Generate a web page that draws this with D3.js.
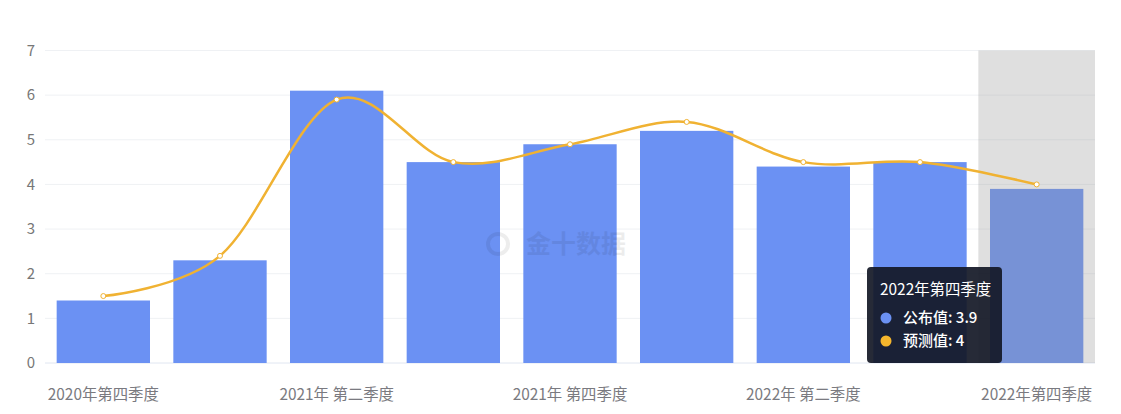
<!DOCTYPE html>
<html><head><meta charset="utf-8">
<script src="https://cdn.jsdelivr.net/npm/d3@7/dist/d3.min.js"></script>
<style>
body{margin:0;background:#fff;font-family:"Microsoft YaHei","Noto Sans CJK SC",sans-serif;}
</style></head>
<body><svg id="c" width="1121" height="414"></svg>
<script>
const categories = ["2020年第四季度","2021年第一季度","2021年 第二季度","2021年第三季度","2021年 第四季度","2022年第一季度","2022年 第二季度","2022年第三季度","2022年第四季度"];
const published = [1.4, 2.3, 6.1, 4.5, 4.9, 5.2, 4.4, 4.5, 3.9];
const forecast = [1.5, 2.4, 5.9, 4.5, 4.9, 5.4, 4.5, 4.5, 4.0];
const yTicks = [0,1,2,3,4,5,6,7];
const shownLabels = [0,2,4,6,8];
const highlight = 8;

const svg = d3.select("#c");
const x = d3.scaleBand().domain(categories).range([45, 1095]).paddingInner(0.2).paddingOuter(0.1);
const band = d3.scaleBand().domain(categories).range([45, 1095]);
const y = d3.scaleLinear().domain([0,7]).range([363, 50.5]);

// grid
svg.append("g").selectAll("line").data(yTicks).join("line")
  .attr("x1",45).attr("x2",1095).attr("y1",d=>y(d)).attr("y2",d=>y(d))
  .attr("stroke", d=> d===0 ? "#e0e6f1" : "#eff1f4").attr("stroke-width",1);
svg.append("g").selectAll("text").data(yTicks).join("text")
  .attr("x",35).attr("y",d=>y(d)).attr("dy","0.35em").attr("text-anchor","end")
  .attr("fill","#777").attr("font-size",15).text(d=>d);

// x labels
svg.append("g").selectAll("text").data(shownLabels).join("text")
  .attr("x",i=>band(categories[i])+band.bandwidth()/2).attr("y",400)
  .attr("text-anchor","middle").attr("fill","#7a7a80").attr("font-size",15.4)
  .text(i=>categories[i]);

// bars
svg.append("g").selectAll("rect").data(published).join("rect")
  .attr("x",(d,i)=>x(categories[i])).attr("width",x.bandwidth())
  .attr("y",d=>y(d)).attr("height",d=>y(0)-y(d)).attr("fill","#6b91f3");

// watermark
const wm = svg.append("g").attr("opacity",0.07);
wm.append("circle").attr("cx",498).attr("cy",244).attr("r",10).attr("fill","none").attr("stroke","#000").attr("stroke-width",4);
wm.append("text").attr("x",526).attr("y",253).attr("font-size",25).attr("font-weight","bold").attr("fill","#000").text("金十数据");

// shadow
svg.append("rect").attr("x",band(categories[highlight])).attr("width",band.bandwidth())
  .attr("y",50.5).attr("height",312.5).attr("fill","rgba(150,150,150,0.3)");

// line
const line = d3.line().x((d,i)=>band(categories[i])+band.bandwidth()/2).y(d=>y(d)).curve(d3.curveCardinal.tension(0));
svg.append("path").datum(forecast).attr("d",line).attr("fill","none").attr("stroke","#f0b232").attr("stroke-width",2.5);
svg.append("g").selectAll("circle").data(forecast).join("circle")
  .attr("cx",(d,i)=>band(categories[i])+band.bandwidth()/2).attr("cy",d=>y(d)).attr("r",2.5)
  .attr("fill","#fff").attr("stroke","#f0b232").attr("stroke-width",1);

// tooltip
const tt = svg.append("g").attr("transform","translate(867,267)");
tt.append("rect").attr("width",135).attr("height",96).attr("rx",4).attr("fill","rgba(19,24,38,0.92)");
tt.append("text").attr("x",13).attr("y",28).attr("fill","#fff").attr("font-size",15.4).text(categories[highlight]);
tt.append("circle").attr("cx",19).attr("cy",51).attr("r",5.5).attr("fill","#6b91f3");
tt.append("text").attr("x",36).attr("y",56).attr("fill","#fff").attr("font-size",15).attr("font-weight",500).text("公布值: " + published[highlight]);
tt.append("circle").attr("cx",19).attr("cy",74).attr("r",5.5).attr("fill","#f5b62d");
tt.append("text").attr("x",36).attr("y",79).attr("fill","#fff").attr("font-size",15).attr("font-weight",500).text("预测值: " + forecast[highlight]);
</script></body></html>
